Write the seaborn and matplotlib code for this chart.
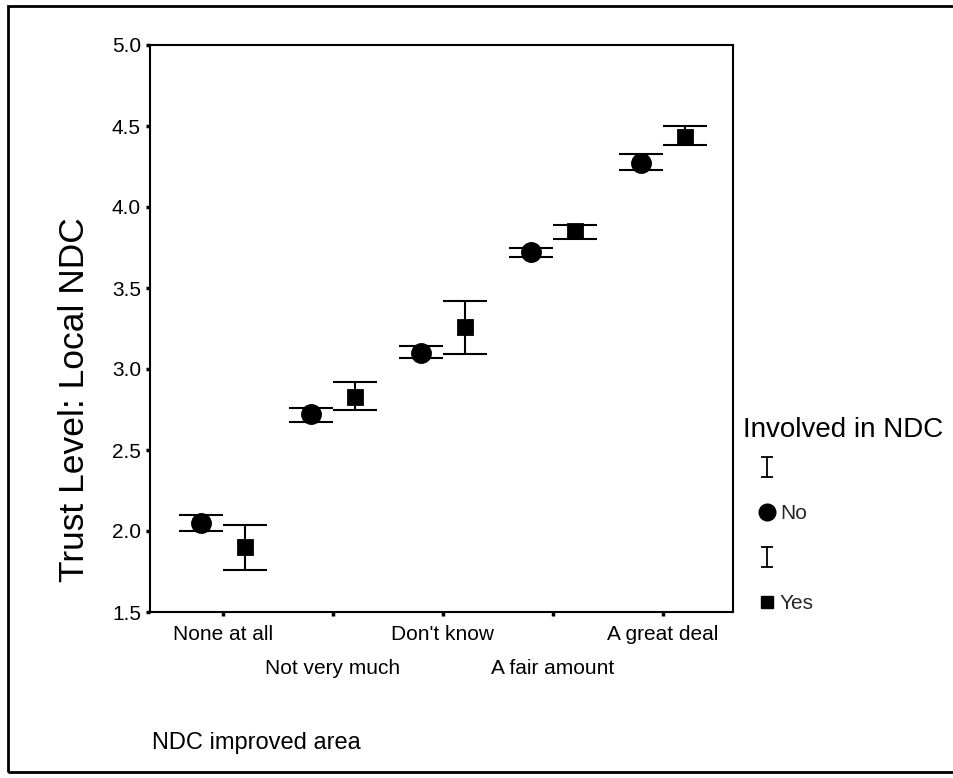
"""
error bar chart: trust in local NDC by perceived improvement and involvement
"""
import numpy as np
import pandas as pd
import matplotlib
matplotlib.use("Agg")
import matplotlib.pyplot as plt
from matplotlib.lines import Line2D
from matplotlib.path import Path
from matplotlib.patches import Rectangle
import seaborn as sns

categories = ["None at all", "Not very much", "Don't know", "A fair amount", "A great deal"]
groups = ["No", "Yes"]

# means and 95% CI bounds
mean_no = [2.05, 2.72, 3.10, 3.72, 4.27]
low_no = [2.00, 2.67, 3.07, 3.69, 4.23]
high_no = [2.10, 2.76, 3.14, 3.75, 4.33]

mean_yes = [1.90, 2.83, 3.26, 3.85, 4.43]
low_yes = [1.76, 2.75, 3.09, 3.80, 4.38]
high_yes = [2.04, 2.92, 3.42, 3.89, 4.50]

y_ticks = [1.5, 2.0, 2.5, 3.0, 3.5, 4.0, 4.5, 5.0]

df = pd.DataFrame(
    {
        "area": categories * 2,
        "involved": ["No"] * 5 + ["Yes"] * 5,
        "trust": mean_no + mean_yes,
    }
)

sns.set_theme(style="white")
plt.rcParams["font.family"] = ["Liberation Sans", "DejaVu Sans"]

fig = plt.figure(figsize=(9.54, 7.78), dpi=100)
ax = fig.add_axes([150 / 954, 1 - 612 / 778, 583 / 954, 567 / 778])

sns.pointplot(
    data=df,
    x="area",
    y="trust",
    hue="involved",
    order=categories,
    hue_order=groups,
    palette=["black", "black"],
    markers=["o", "s"],
    dodge=0.4,
    linestyle="none",
    errorbar=None,
    legend=False,
    ax=ax,
)
# seaborn marker sizes are set per line, fix them here
for line in ax.lines:
    if line.get_marker() == "o":
        line.set_markersize(13)
    else:
        line.set_markersize(10.5)

xs = np.arange(len(categories))
for offset, m, lo, hi in [(-0.2, mean_no, low_no, high_no), (0.2, mean_yes, low_yes, high_yes)]:
    m = np.array(m)
    ax.errorbar(
        xs + offset,
        m,
        yerr=[m - np.array(lo), np.array(hi) - m],
        fmt="none",
        ecolor="black",
        elinewidth=1.5,
        capsize=15.5,
        capthick=1.5,
    )

ax.set_xlim(-0.66, 4.64)
ax.set_ylim(1.5, 5.0)
ax.set_yticks(y_ticks)
ax.set_yticklabels([f"{t:.1f}" for t in y_ticks])
ax.set_xticks(xs)
ax.set_xticklabels([c if i % 2 == 0 else "\n" + c for i, c in enumerate(categories)],
                   linespacing=2.05)
ax.tick_params(axis="both", direction="out", length=3, width=2.5, color="black",
               labelsize=15, labelcolor="black")
ax.tick_params(axis="x", pad=6)
ax.tick_params(axis="y", pad=3.5)
ax.tick_params(left=True, bottom=True)
for sp in ax.spines.values():
    sp.set_color("black")
    sp.set_linewidth(1.5)

ax.set_ylabel("Trust Level: Local NDC", fontsize=25.5, color="black")
ax.yaxis.set_label_coords(-0.102, 0.374)
ax.set_xlabel("NDC improved area", fontsize=17, color="black", ha="left")
ax.xaxis.set_label_coords(0.003, -0.212)

# legend: error bar glyph + marker for each group
bar_glyph = Path(
    [(-0.6, -1), (0.6, -1), (0, -1), (0, 1), (-0.6, 1), (0.6, 1)],
    [Path.MOVETO, Path.LINETO, Path.MOVETO, Path.LINETO, Path.MOVETO, Path.LINETO],
)
handles = [
    Line2D([], [], linestyle="none", marker=bar_glyph, markersize=14.5,
           markerfacecolor="none", markeredgecolor="black", markeredgewidth=1.3),
    Line2D([], [], linestyle="none", marker="o", markersize=12, color="black"),
    Line2D([], [], linestyle="none", marker=bar_glyph, markersize=14.5,
           markerfacecolor="none", markeredgecolor="black", markeredgewidth=1.3),
    Line2D([], [], linestyle="none", marker="s", markersize=9, color="black"),
]
fig.legend(
    handles, ["", "No", "", "Yes"],
    loc="upper left",
    bbox_to_anchor=(757 / 954, 1 - 459 / 778),
    frameon=False,
    fontsize=15,
    handlelength=1.0,
    handletextpad=0.1,
    labelspacing=1.25,
    borderpad=0,
    borderaxespad=0,
)
fig.text(743 / 954, 1 - 430 / 778, "Involved in NDC", fontsize=20, ha="left", va="center",
         color="black")

# outer frame of the exported chart
fig.patches.append(
    Rectangle((8 / 954, 1 - 772 / 778), 1.0, (772 - 6) / 778, transform=fig.transFigure,
              fill=False, edgecolor="black", linewidth=2)
)

fig.savefig("out.png", dpi=100, facecolor="white")
